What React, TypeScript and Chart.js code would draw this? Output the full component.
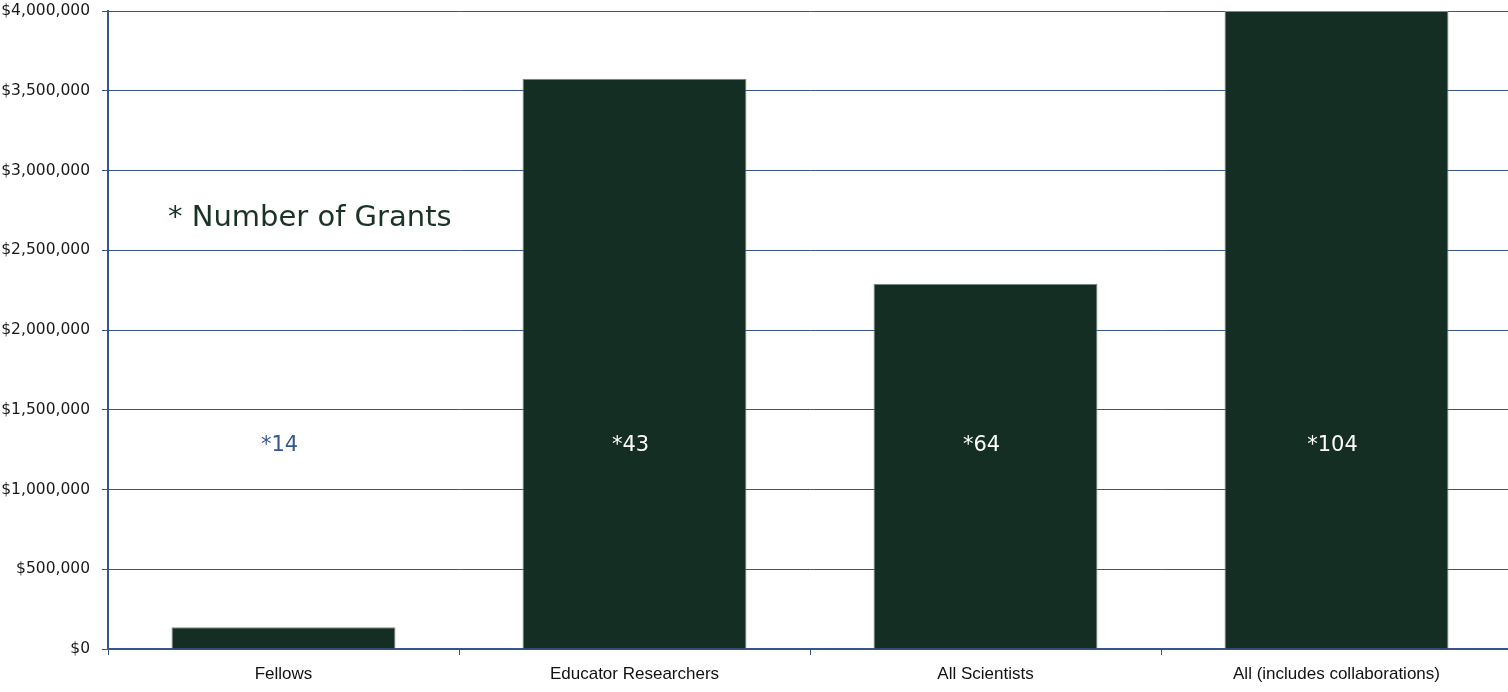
import React, { useEffect, useRef } from "react";
import { Chart, registerables } from "chart.js";

Chart.register(...registerables);

const categories = ["Fellows", "Educator Researchers", "All Scientists", "All (includes collaborations)"];
const fundingValues = [137000, 3575000, 2290000, 4000000];
const grantCountLabels = ["*14", "*43", "*64", "*104"];
const yTickValues = [0, 500000, 1000000, 1500000, 2000000, 2500000, 3000000, 3500000, 4000000];
const noteText = "* Number of Grants";
const countLabelLevel = 1275000;

const BLUE = "#36558a";
const BAR = "#142e23";

const labelsPlugin = {
  id: "grantLabels",
  afterDatasetsDraw(chart: any) {
    const { ctx, scales } = chart;
    const x = scales.x;
    const y = scales.y;
    ctx.save();
    ctx.textBaseline = "middle";
    ctx.font = "29px 'DejaVu Sans'";
    ctx.fillStyle = "#1b3326";
    ctx.textAlign = "left";
    ctx.fillText(noteText, 168, 218);
    ctx.font = "21px 'DejaVu Sans'";
    ctx.textAlign = "center";
    const yp = y.getPixelForValue(countLabelLevel);
    grantCountLabels.forEach((t, i) => {
      ctx.fillStyle = fundingValues[i] > countLabelLevel ? "#ffffff" : BLUE;
      ctx.fillText(t, x.getPixelForValue(i) - 4, yp);
    });
    ctx.restore();
  },
};

export default function App() {
  const ref = useRef<HTMLCanvasElement>(null);
  useEffect(() => {
    if (!ref.current) return;
    const chart = new Chart(ref.current, {
      type: "bar",
      data: {
        labels: categories,
        datasets: [
          {
            data: fundingValues,
            backgroundColor: BAR,
            borderColor: "#7a8a83",
            borderWidth: 1,
            categoryPercentage: 1,
            barPercentage: 0.638,
          },
        ],
      },
      options: {
        responsive: false,
        animation: false,
        layout: { padding: { top: 11, right: 0, bottom: 0, left: 0 } },
        plugins: { legend: { display: false }, tooltip: { enabled: false } },
        scales: {
          x: {
            offset: true,
            grid: {
              display: true,
              offset: true,
              drawOnChartArea: false,
              drawTicks: true,
              tickLength: 6,
              color: BLUE,
              lineWidth: 1,
            },
            border: { display: true, color: BLUE, width: 2 },
            ticks: {
              color: "#111111",
              font: { family: "'Liberation Sans'", size: 17 },
              padding: 9,
              maxRotation: 0,
              autoSkip: false,
            },
            afterFit(scale: any) {
              scale.height = 43;
              scale.paddingLeft = 0;
              scale.paddingRight = 0;
            },
          },
          y: {
            min: 0,
            max: 4000000,
            afterBuildTicks(scale: any) {
              scale.ticks = yTickValues.map((v) => ({ value: v }));
            },
            grid: {
              color: BLUE,
              lineWidth: 1,
              drawTicks: true,
              tickLength: 6,
            },
            border: { display: true, color: BLUE, width: 2 },
            ticks: {
              color: "#1a1a1a",
              font: { family: "'DejaVu Sans'", size: 15.5 },
              padding: 12,
              callback: (v: any) => "$" + Number(v).toLocaleString("en-US"),
            },
            afterFit(scale: any) {
              scale.width = 108;
              scale.paddingTop = 0;
              scale.paddingBottom = 0;
            },
          },
        },
      },
      plugins: [labelsPlugin],
    });
    return () => chart.destroy();
  }, []);
  return (
    <div style={{ position: "fixed", left: 0, top: 0, width: 1508, height: 692, overflow: "hidden", background: "#fff" }}>
      <canvas ref={ref} width={1512} height={692} style={{ display: "block" }} />
    </div>
  );
}
